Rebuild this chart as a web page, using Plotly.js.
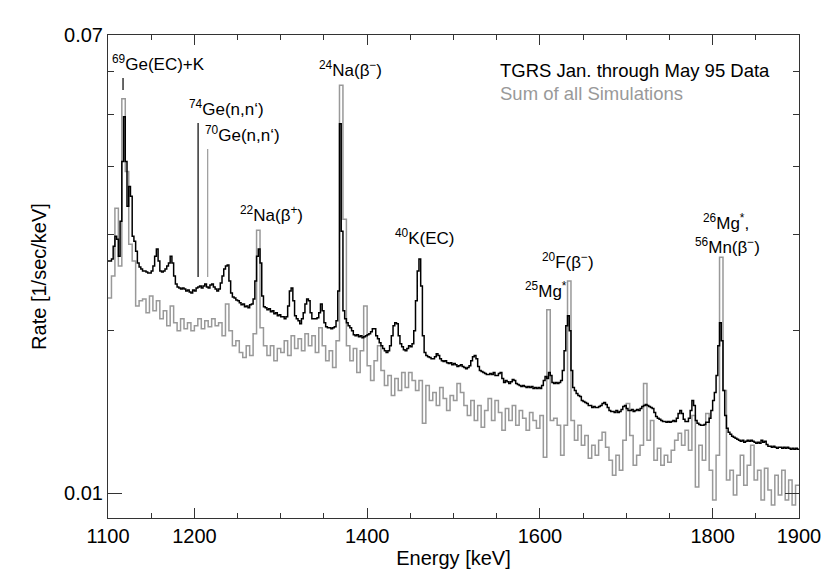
<!DOCTYPE html>
<html><head><meta charset="utf-8">
<script src="https://cdn.plot.ly/plotly-3.0.1.min.js"></script>
<style>html,body{margin:0;padding:0;background:#fff}</style>
</head><body><div id="chart" style="width:830px;height:587px"></div>
<script>
// ---- data ----
const dataBinStart = 1100, dataBinWidth = 2;   // keV
const dataRate = [
0.02681,0.02681,0.02704,0.02857,0.02980,0.02943,0.02738,0.03176,0.04094,0.04954,
0.04094,0.03384,0.03683,0.03530,0.02980,0.02918,0.02797,0.02659,0.02614,0.02592,
0.02570,0.02570,0.02559,0.02549,0.02549,0.02570,0.02625,0.02738,0.02821,0.02681,
0.02570,0.02559,0.02570,0.02592,0.02625,0.02659,0.02738,0.02659,0.02517,0.02432,
0.02402,0.02392,0.02382,0.02392,0.02382,0.02362,0.02372,0.02352,0.02342,0.02372,
0.02362,0.02392,0.02402,0.02412,0.02392,0.02412,0.02432,0.02402,0.02392,0.02422,
0.02432,0.02402,0.02382,0.02362,0.02382,0.02443,0.02517,0.02592,0.02625,0.02636,
0.02464,0.02342,0.02302,0.02292,0.02273,0.02264,0.02245,0.02226,0.02235,0.02207,
0.02216,0.02198,0.02226,0.02235,0.02283,0.02464,0.02738,0.02821,0.02659,0.02312,
0.02207,0.02198,0.02179,0.02189,0.02161,0.02170,0.02143,0.02152,0.02125,0.02134,
0.02116,0.02116,0.02098,0.02116,0.02216,0.02362,0.02392,0.02264,0.02125,0.02098,
0.02080,0.02054,0.02098,0.02152,0.02235,0.02283,0.02264,0.02152,0.02098,0.02098,
0.02098,0.02107,0.02152,0.02235,0.02170,0.02063,0.02028,0.02019,0.02019,0.02011,
0.02019,0.02028,0.02080,0.02362,0.04806,0.03044,0.02170,0.02098,0.02063,0.02036,
0.02019,0.01994,0.01960,0.01952,0.01960,0.01944,0.01952,0.01936,0.01944,0.01952,
0.01960,0.01969,0.01985,0.02011,0.02011,0.01952,0.01927,0.01895,0.01871,0.01848,
0.01832,0.01817,0.01832,0.01871,0.01952,0.02036,0.02063,0.02054,0.01952,0.01887,
0.01863,0.01840,0.01832,0.01848,0.01871,0.01863,0.01887,0.01994,0.02264,0.02570,
0.02704,0.02412,0.01952,0.01817,0.01794,0.01786,0.01779,0.01771,0.01771,0.01786,
0.01809,0.01794,0.01771,0.01756,0.01749,0.01756,0.01741,0.01734,0.01741,0.01726,
0.01734,0.01726,0.01712,0.01719,0.01726,0.01712,0.01705,0.01697,0.01705,0.01719,
0.01756,0.01786,0.01794,0.01771,0.01712,0.01683,0.01676,0.01669,0.01662,0.01655,
0.01655,0.01662,0.01655,0.01669,0.01648,0.01648,0.01662,0.01669,0.01627,0.01600,
0.01613,0.01606,0.01593,0.01606,0.01620,0.01613,0.01593,0.01587,0.01580,0.01573,
0.01580,0.01573,0.01567,0.01573,0.01567,0.01573,0.01560,0.01567,0.01560,0.01567,
0.01560,0.01580,0.01613,0.01641,0.01627,0.01669,0.01648,0.01600,0.01593,0.01600,
0.01593,0.01600,0.01613,0.01683,0.01832,0.02036,0.02125,0.01994,0.01683,0.01567,
0.01547,0.01527,0.01514,0.01508,0.01482,0.01476,0.01470,0.01463,0.01451,0.01451,
0.01439,0.01445,0.01439,0.01439,0.01445,0.01451,0.01463,0.01470,0.01457,0.01439,
0.01421,0.01415,0.01415,0.01409,0.01421,0.01409,0.01415,0.01427,0.01445,0.01451,
0.01433,0.01421,0.01421,0.01427,0.01415,0.01421,0.01427,0.01421,0.01433,0.01445,
0.01451,0.01457,0.01451,0.01445,0.01439,0.01433,0.01409,0.01385,0.01374,0.01368,
0.01362,0.01356,0.01356,0.01351,0.01356,0.01351,0.01356,0.01362,0.01356,0.01374,
0.01402,0.01421,0.01402,0.01368,0.01356,0.01356,0.01374,0.01421,0.01482,0.01451,
0.01362,0.01345,0.01339,0.01334,0.01334,0.01339,0.01351,0.01351,0.01374,0.01421,
0.01482,0.01534,0.01648,0.01871,0.02063,0.01911,0.01547,0.01391,0.01317,0.01295,
0.01284,0.01273,0.01268,0.01262,0.01257,0.01252,0.01246,0.01252,0.01241,0.01246,
0.01252,0.01246,0.01252,0.01246,0.01241,0.01236,0.01241,0.01236,0.01252,0.01241,
0.01246,0.01230,0.01220,0.01220,0.01215,0.01220,0.01215,0.01210,0.01215,0.01215,
0.01210,0.01215,0.01210,0.01215,0.01210,0.01205,0.01210,0.01205,0.01210,0.01205
];
const simBinStart = 1100, simBinWidth = 4;     // keV
const simRate = [
0.02292,0.02517,0.03356,0.02625,0.05345,0.03924,0.02881,0.02681,0.02216,0.02264,
0.02283,0.02152,0.02312,0.02170,0.02264,0.02098,0.02170,0.02036,0.02216,0.02063,
0.01994,0.02098,0.02011,0.02063,0.01994,0.02036,0.02098,0.02011,0.02080,0.02028,
0.02098,0.02036,0.02063,0.01952,0.02235,0.01994,0.01871,0.01911,0.01817,0.01779,
0.01871,0.01794,0.01969,0.03056,0.02019,0.01871,0.01794,0.01871,0.01756,0.01848,
0.01817,0.01911,0.01794,0.01952,0.01848,0.01927,0.01832,0.01969,0.01871,0.01952,
0.01817,0.02019,0.01871,0.01756,0.01832,0.01705,0.01911,0.05663,0.03203,0.01871,
0.01756,0.01848,0.01669,0.01832,0.02216,0.01719,0.01613,0.01756,0.01871,0.01683,
0.01580,0.01648,0.01514,0.01627,0.01547,0.01669,0.01567,0.01669,0.01613,0.01547,
0.01613,0.01345,0.01580,0.01482,0.01534,0.01451,0.01567,0.01495,0.01421,0.01514,
0.01482,0.01593,0.01534,0.01451,0.01391,0.01482,0.01362,0.01451,0.01323,0.01421,
0.01495,0.01362,0.01482,0.01409,0.01306,0.01433,0.01362,0.01451,0.01334,0.01421,
0.01374,0.01306,0.01409,0.01362,0.01317,0.01391,0.01164,0.02179,0.01362,0.01374,
0.01334,0.01174,0.01334,0.02464,0.01362,0.01252,0.01334,0.01225,0.01278,0.01160,
0.01225,0.01174,0.01252,0.01295,0.01215,0.01150,0.01079,0.01174,0.01102,0.01252,
0.01463,0.01278,0.01126,0.01174,0.01225,0.01593,0.01252,0.01362,0.01150,0.01210,
0.01126,0.01174,0.01140,0.01200,0.01252,0.01289,0.01225,0.01306,0.01200,0.01391,
0.01026,0.01225,0.01150,0.01402,0.01102,0.009708,0.01174,0.02726,0.01547,0.01057,
0.01102,0.009916,0.01079,0.01174,0.01034,0.01126,0.01225,0.01057,0.01102,0.009708,
0.01111,0.01013,0.009505,0.01079,0.009916,0.01102,0.009708,0.01057,0.009505,0.01034
];
const xTickVals = [1100, 1200, 1400, 1600, 1800, 1900];
const xTickText = ['1100', '1200', '1400', '1600', '1800', '1900'];
const yTickVals = [0.01, 0.07];
const yTickText = ['0.01', '0.07'];
const yMinorVals = [0.02, 0.03, 0.04, 0.05, 0.06];
// line energies of the marker ticks (keV)
const markerEnergy = [1117.4, 1204.3, 1215.4];

// ---- build step traces ----
function steps(start, width, vals) {
  const x = [], y = [];
  vals.forEach((v, i) => { x.push(start + i * width); y.push(v); });
  x.push(start + vals.length * width); y.push(vals[vals.length - 1]);
  return {x, y};
}
const s = steps(simBinStart, simBinWidth, simRate);
const d = steps(dataBinStart, dataBinWidth, dataRate);
const GRAY = '#999999';
const FONT = 'Liberation Sans, Arial, Helvetica, sans-serif';

const traces = [
  {x: s.x, y: s.y, type: 'scatter', mode: 'lines', line: {shape: 'hv', color: GRAY, width: 1.5}, hoverinfo: 'skip'},
  {x: d.x, y: d.y, type: 'scatter', mode: 'lines', line: {shape: 'hv', color: '#000', width: 1.5}, hoverinfo: 'skip'}
];

// pixel -> paper helpers for layout placement
const L = 108, R = 799, T = 35, B = 518;
const px = p => (p - L) / (R - L);
const py = p => (B - p) / (B - T);

const labels = [
  ['<sup>69</sup>Ge(EC)+K', 110, 63, 'left', '#000', 17],
  ['<sup>74</sup>Ge(n,n‘)', 187, 108, 'left', '#000', 17],
  ['<sup>70</sup>Ge(n,n‘)', 203, 134, 'left', '#000', 17],
  ['<sup>22</sup>Na(β<sup>+</sup>)', 238, 214, 'left', '#000', 17],
  ['<sup>24</sup>Na(β<sup>−</sup>)', 317, 69, 'left', '#000', 17],
  ['<sup>40</sup>K(EC)', 393, 237, 'left', '#000', 17],
  ['<sup>20</sup>F(β<sup>−</sup>)', 540, 261, 'left', '#000', 17],
  ['<sup>25</sup>Mg<sup>*</sup>', 523, 290, 'left', '#000', 17],
  ['<sup>26</sup>Mg<sup>*</sup>,', 726, 222, 'center', '#000', 17],
  ['<sup>56</sup>Mn(β<sup>−</sup>)', 727, 246, 'center', '#000', 17],
  ['TGRS Jan. through May 95 Data', 498, 70, 'left', '#000', 18.5],
  ['Sum of all Simulations', 498, 94, 'left', GRAY, 18.5]
];
const annotations = labels.map(a => ({
  text: a[0], xref: 'paper', yref: 'paper', x: px(a[1]), y: py(a[2]),
  xanchor: a[3], yanchor: 'middle', showarrow: false,
  font: {family: FONT, size: a[5], color: a[4]}
}));

const markerSpans = [[78, 90, '#000'], [123, 277, '#000'], [149, 277, GRAY]];
const shapes = markerEnergy.map((e, i) => ({
  type: 'line', xref: 'x', yref: 'paper', x0: e, x1: e,
  y0: py(markerSpans[i][1]), y1: py(markerSpans[i][0]),
  line: {color: markerSpans[i][2], width: 1.2}
}));

const axisCommon = {
  showline: true, linecolor: '#333', linewidth: 1, mirror: 'ticks',
  ticks: 'inside', tickcolor: '#333', tickwidth: 1,
  showgrid: false, zeroline: false,
  tickfont: {family: FONT, size: 20, color: '#000'}
};

const layout = {
  width: 830, height: 587,
  margin: {l: L, r: 830 - R, t: T, b: 587 - B, pad: 0},
  paper_bgcolor: '#fff', plot_bgcolor: '#fff',
  showlegend: false,
  font: {family: FONT, size: 20, color: '#000'},
  xaxis: Object.assign({}, axisCommon, {
    range: [1100, 1900], tickmode: 'array', tickvals: xTickVals, ticktext: xTickText,
    ticklen: 10,
    minor: {tick0: 1100, dtick: 50, ticks: 'inside', ticklen: 5, tickcolor: '#333', showgrid: false},
    title: {text: 'Energy [keV]', font: {family: FONT, size: 20, color: '#000'}, standoff: 4}
  }),
  yaxis: Object.assign({}, axisCommon, {
    type: 'log', range: [-2.046, -1.1543], tickmode: 'array', tickvals: yTickVals, ticktext: yTickText,
    ticklen: 14,
    minor: {tickmode: 'array', tickvals: yMinorVals, ticks: 'inside', ticklen: 6, tickcolor: '#333', showgrid: false},
    title: {text: 'Rate [1/sec/keV]', font: {family: FONT, size: 20, color: '#000'}, standoff: 12}
  }),
  annotations: annotations,
  shapes: shapes
};

Plotly.newPlot('chart', traces, layout, {displayModeBar: false, staticPlot: true});
</script>
</body></html>
